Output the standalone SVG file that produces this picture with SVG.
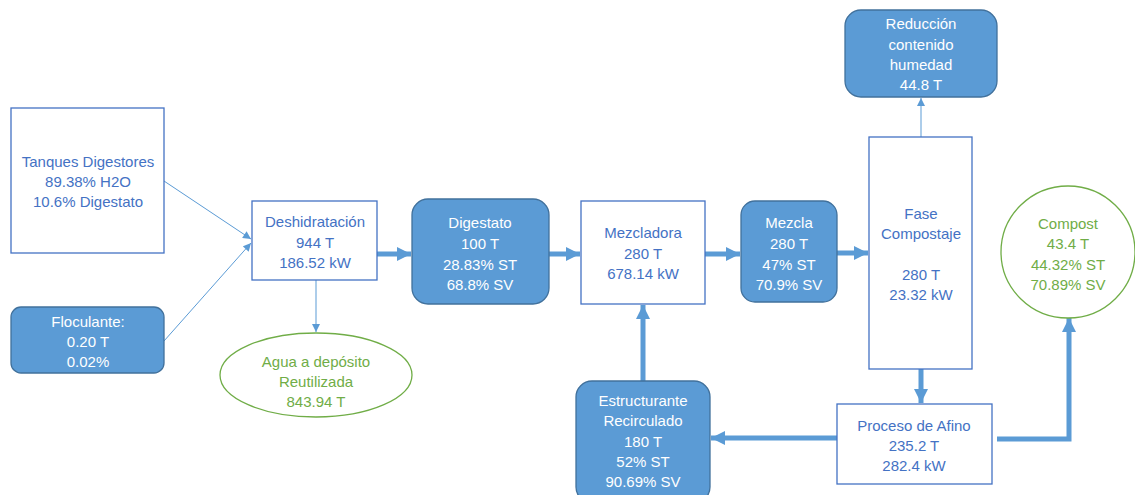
<svg xmlns="http://www.w3.org/2000/svg" width="1135" height="495" viewBox="0 0 1135 495">
<defs>
<style>
text{font-family:"Liberation Sans",Arial,sans-serif;font-size:15px;text-anchor:middle;dominant-baseline:central}
.ob{fill:#fff;stroke:#4472C4;stroke-width:1.3}
.fb{fill:#5B9BD5;stroke:#41719C;stroke-width:1.3}
.gb{fill:#fff;stroke:#70AD47;stroke-width:1.3}
.tb{fill:#4472C4}
.tw{fill:#fff}
.tg{fill:#70AD47}
.thin{stroke:#5B9BD5;stroke-width:1;fill:none}
.thick{stroke:#5B9BD5;stroke-width:5;fill:none}
</style>
<marker id="ah" markerUnits="userSpaceOnUse" viewBox="0 0 10 10" refX="10" refY="5" markerWidth="9" markerHeight="8" orient="auto"><path d="M0,0 L10,5 L0,10 z" fill="#5B9BD5"/></marker>
<marker id="AH" markerUnits="userSpaceOnUse" viewBox="0 0 10 10" refX="10" refY="5" markerWidth="14" markerHeight="17" orient="auto"><path d="M0,0 L10,5 L0,10 z" fill="#5B9BD5"/></marker>
</defs>
<g id="connectors">
<line class="thin" x1="164" y1="181" x2="251" y2="239" marker-end="url(#ah)"/>
<line class="thin" x1="164" y1="341" x2="251" y2="243" marker-end="url(#ah)"/>
<line class="thin" x1="316" y1="280" x2="316" y2="332" marker-end="url(#ah)"/>
<line class="thin" x1="921" y1="137" x2="921" y2="98" marker-end="url(#ah)"/>
<line class="thick" x1="377" y1="254" x2="411" y2="254" marker-end="url(#AH)"/>
<line class="thick" x1="549" y1="254" x2="580" y2="254" marker-end="url(#AH)"/>
<line class="thick" x1="705" y1="254" x2="740" y2="254" marker-end="url(#AH)"/>
<line class="thick" x1="837" y1="253" x2="868" y2="253" marker-end="url(#AH)"/>
<line class="thick" x1="921" y1="369" x2="921" y2="403" marker-end="url(#AH)"/>
<line class="thick" x1="837" y1="438" x2="711" y2="438" marker-end="url(#AH)"/>
<line class="thick" x1="643" y1="381" x2="643" y2="305" marker-end="url(#AH)"/>
<polyline class="thick" points="997,439 1069,439 1069,318" marker-end="url(#AH)"/>
</g>
<g id="tanques">
<rect class="ob" x="11" y="108" width="153" height="145"/>
<text class="tb" x="88" y="161">Tanques Digestores</text>
<text class="tb" x="88" y="181">89.38% H2O</text>
<text class="tb" x="88" y="201">10.6% Digestato</text>
</g>
<g id="floculante">
<rect class="fb" x="11" y="307" width="153" height="66" rx="10"/>
<text class="tw" x="88" y="321">Floculante:</text>
<text class="tw" x="88" y="341">0.20 T</text>
<text class="tw" x="88" y="361">0.02%</text>
</g>
<g id="deshidratacion">
<rect class="ob" x="252" y="201" width="125" height="79"/>
<text class="tb" x="315" y="221">Deshidratación</text>
<text class="tb" x="315" y="242">944 T</text>
<text class="tb" x="315" y="262">186.52 kW</text>
</g>
<g id="agua">
<ellipse class="gb" cx="316" cy="375" rx="96" ry="42"/>
<text class="tg" x="316" y="361">Agua a depósito</text>
<text class="tg" x="316" y="381">Reutilizada</text>
<text class="tg" x="316" y="401">843.94 T</text>
</g>
<g id="digestato">
<rect class="fb" x="412" y="199" width="137" height="105" rx="16"/>
<text class="tw" x="480" y="222">Digestato</text>
<text class="tw" x="480" y="243">100 T</text>
<text class="tw" x="480" y="264">28.83% ST</text>
<text class="tw" x="480" y="284">68.8% SV</text>
</g>
<g id="mezcladora">
<rect class="ob" x="581" y="201" width="124" height="103"/>
<text class="tb" x="643" y="232">Mezcladora</text>
<text class="tb" x="643" y="253">280 T</text>
<text class="tb" x="643" y="273">678.14 kW</text>
</g>
<g id="mezcla">
<rect class="fb" x="741" y="201" width="96" height="101" rx="14"/>
<text class="tw" x="789" y="222">Mezcla</text>
<text class="tw" x="789" y="243">280 T</text>
<text class="tw" x="789" y="264">47% ST</text>
<text class="tw" x="789" y="284">70.9% SV</text>
</g>
<g id="fase">
<rect class="ob" x="869" y="137" width="103" height="232"/>
<text class="tb" x="921" y="213">Fase</text>
<text class="tb" x="921" y="233">Compostaje</text>
<text class="tb" x="921" y="274">280 T</text>
<text class="tb" x="921" y="294">23.32 kW</text>
</g>
<g id="reduccion">
<rect class="fb" x="845" y="10" width="152" height="87" rx="16"/>
<text class="tw" x="921" y="23">Reducción</text>
<text class="tw" x="921" y="44">contenido</text>
<text class="tw" x="921" y="64">humedad</text>
<text class="tw" x="921" y="84">44.8 T</text>
</g>
<g id="afino">
<rect class="ob" x="837" y="404" width="155" height="80"/>
<text class="tb" x="914" y="425">Proceso de Afino</text>
<text class="tb" x="914" y="445">235.2 T</text>
<text class="tb" x="914" y="465">282.4 kW</text>
</g>
<g id="estructurante">
<rect class="fb" x="576" y="381" width="134" height="122" rx="16"/>
<text class="tw" x="643" y="400">Estructurante</text>
<text class="tw" x="643" y="420">Recirculado</text>
<text class="tw" x="643" y="441">180 T</text>
<text class="tw" x="643" y="461">52% ST</text>
<text class="tw" x="643" y="481">90.69% SV</text>
</g>
<g id="compost">
<ellipse class="gb" cx="1068" cy="252" rx="67" ry="66"/>
<text class="tg" x="1068" y="223">Compost</text>
<text class="tg" x="1068" y="243">43.4 T</text>
<text class="tg" x="1068" y="264">44.32% ST</text>
<text class="tg" x="1068" y="284">70.89% SV</text>
</g>
</svg>
